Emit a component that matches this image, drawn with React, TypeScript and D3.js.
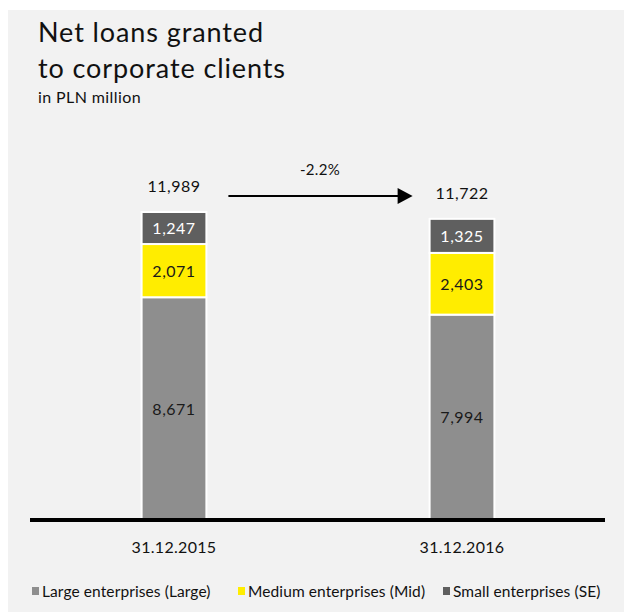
import React from "react";
import * as d3 from "d3";

const categories = ["31.12.2015", "31.12.2016"];
const seriesNames = ["Large enterprises (Large)", "Medium enterprises (Mid)", "Small enterprises (SE)"];
const largeValues = [8671, 7994];
const midValues = [2071, 2403];
const seValues = [1247, 1325];
const totals = [11989, 11722];
const changeLabel = "-2.2%";
const colors = ["#8e8e8e", "#ffed00", "#5f5f5f"];
const labelColors = ["#1a1a1a", "#1a1a1a", "#ffffff"];

const W = 627, H = 612;
const FONT = "Lato, 'Noto Sans', sans-serif";

export default function App() {
  const x = d3.scaleBand().domain(categories).range([30, 606]).paddingInner(0.775).paddingOuter(0.3875);
  const y = d3.scaleLinear().domain([0, 11989]).range([520, 212]);
  const data = categories.map((c, i) => ({ cat: c, large: largeValues[i], mid: midValues[i], se: seValues[i] }));
  const stack = d3.stack<any>().keys(["large", "mid", "se"])(data);
  const fmt = d3.format(",");
  const bw = x.bandwidth();
  const x0 = (x(categories[0]) as number) + bw;
  const x1 = x(categories[1]) as number;
  const arrowY = 196;
  const legendX = [32, 238, 443];
  return (
    <svg width={W} height={H} style={{ position: "absolute", left: 0, top: 0 }} fontFamily={FONT} fontWeight={400}>
      <rect x={8} y={10} width={616} height={602} fill="#f2f2f2" />
      <text x={38} y={42} fontSize={27} letterSpacing={0.9} fill="#111">Net loans granted</text>
      <text x={38} y={78} fontSize={27} letterSpacing={0.9} fill="#111">to corporate clients</text>
      <text x={38} y={103} fontSize={16} letterSpacing={0.4} fill="#111">in PLN million</text>
      {stack.map((s, si) =>
        s.map((d, i) => {
          const top = y(d[1]);
          const bot = y(d[0]);
          const bx = x(categories[i]) as number;
          return (
            <g key={si + "-" + i}>
              <rect x={bx} y={top} width={bw} height={bot - top} fill={colors[si]} stroke="#ffffff" strokeWidth={2} />
              <text x={bx + bw / 2} y={(top + bot) / 2 + 6} textAnchor="middle" fontSize={16} letterSpacing={0.5} fill={labelColors[si]}>
                {fmt(d[1] - d[0])}
              </text>
            </g>
          );
        })
      )}
      {totals.map((t, i) => (
        <text key={i} x={(x(categories[i]) as number) + bw / 2} y={y(t) - 20} textAnchor="middle" fontSize={16} letterSpacing={0.5} fill="#111">
          {fmt(t)}
        </text>
      ))}
      <line x1={x0 + 22} x2={x1 - 30} y1={arrowY} y2={arrowY} stroke="#000" strokeWidth={2} />
      <path d={`M${x1 - 32},${arrowY - 8} L${x1 - 17},${arrowY} L${x1 - 32},${arrowY + 8} Z`} fill="#000" />
      <text x={(x0 + x1) / 2 + 2} y={175} textAnchor="middle" fontSize={15} letterSpacing={0.3} fill="#111">{changeLabel}</text>
      <line x1={30} x2={605} y1={520} y2={520} stroke="#000" strokeWidth={4} />
      {categories.map((c, i) => (
        <text key={c} x={(x(c) as number) + bw / 2} y={553} textAnchor="middle" fontSize={16} letterSpacing={0.3} fill="#111">{c}</text>
      ))}
      {seriesNames.map((n, i) => (
        <g key={n}>
          <rect x={legendX[i]} y={587} width={7} height={8} fill={colors[i]} />
          <text x={legendX[i] + 10} y={597} fontSize={15.5} letterSpacing={0.1} fill="#111">{n}</text>
        </g>
      ))}
    </svg>
  );
}
